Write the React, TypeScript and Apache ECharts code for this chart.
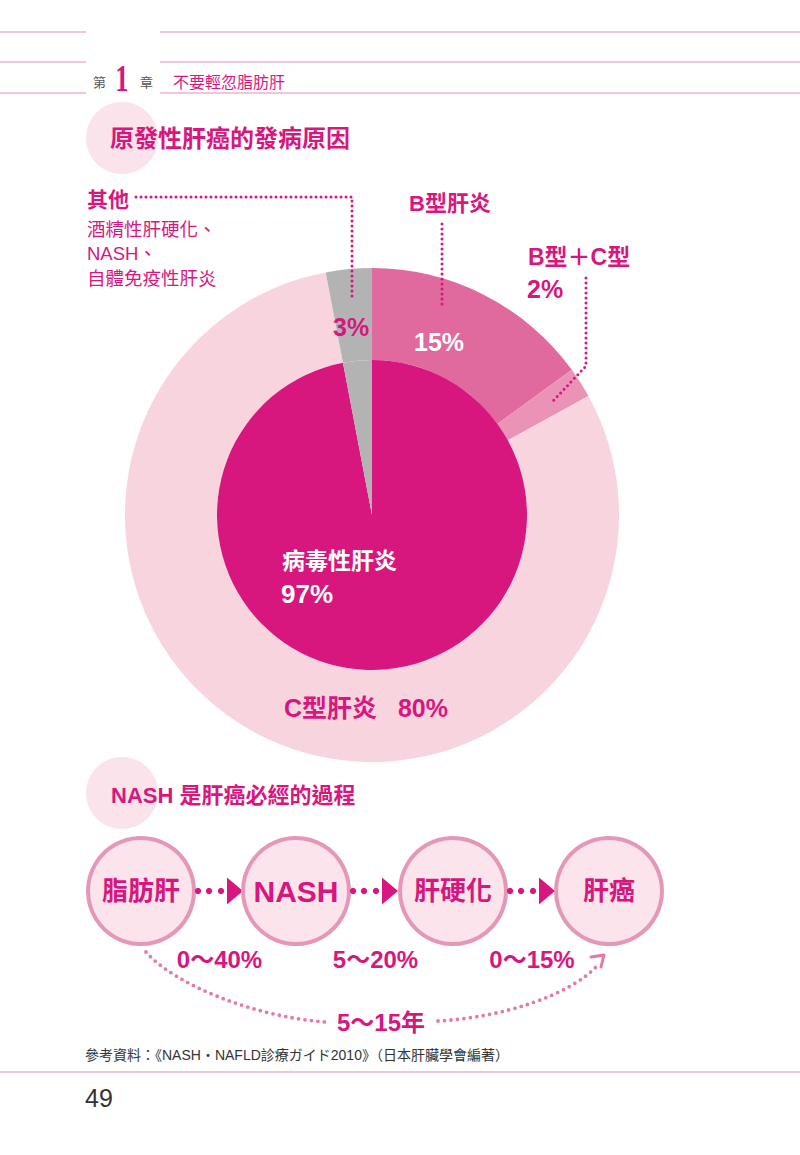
import React, { useEffect, useRef } from "react";
import * as echarts from "echarts";

// ---- data ----
const innerNames = ["病毒性肝炎", "其他"];
const innerValues = [97, 3];
const outerNames = ["B型肝炎", "B型＋C型", "C型肝炎", "其他"];
const outerValues = [15, 2, 80, 3];
const otherCauses = ["酒精性肝硬化、", "NASH、", "自體免疫性肝炎"];
const flowStages = ["脂肪肝", "NASH", "肝硬化", "肝癌"];
const flowRates = ["0～40%", "5～20%", "0～15%"];
const totalPeriod = "5～15年";

// ---- styles ----
const MAG = "#D7177E";
const GRAY = "#B3B3B3";
const innerColors = [MAG, GRAY];
const outerColors = ["#E0699D", "#EB93B6", "#F7D4DE", GRAY];
const LINE = "#E38DB9";
const PALE = "#FAE3EA";
const F = '"Liberation Sans", "Noto Sans CJK TC", sans-serif';

const txt = (text: string, x: number, y: number, size: number, color: string, opts: any = {}) => ({
  type: "text",
  x,
  y,
  silent: true,
  z: 10,
  style: {
    text,
    fill: color,
    fontSize: size,
    fontWeight: opts.weight || "bold",
    fontFamily: opts.family || F,
    align: opts.align || "left",
    verticalAlign: "middle",
  },
});

const dotted = (points: number[][], color: string, width = 3, gap = 5) => ({
  type: "polyline",
  silent: true,
  z: 5,
  shape: { points },
  style: { stroke: color, lineWidth: width, lineDash: [0, gap], lineCap: "round", fill: null },
});

const hline = (x1: number, x2: number, y: number) => ({
  type: "line",
  silent: true,
  shape: { x1, y1: y, x2, y2: y },
  style: { stroke: LINE, lineWidth: 1.2 },
});

export default function App() {
  const ref = useRef<HTMLDivElement>(null);
  useEffect(() => {
    if (!ref.current) return;
    const chart = echarts.init(ref.current, null, { renderer: "svg" });
    const cx = 372;
    const cy = 515;

    const graphics: any[] = [];
    // header
    [32, 62, 93].forEach((y) => {
      graphics.push(hline(0, 86, y), hline(160, 800, y));
    });
    graphics.push(txt("第", 93, 82, 13, "#555", { weight: "normal" }));
    graphics.push({
      type: "text",
      x: 122,
      y: 78,
      scaleX: 0.7,
      silent: true,
      style: {
        text: "1",
        fill: MAG,
        fontSize: 38,
        fontWeight: "bold",
        fontFamily: '"Liberation Serif", serif',
        align: "center",
        verticalAlign: "middle",
      },
    });
    graphics.push(txt("章", 140, 82, 13, "#555", { weight: "normal" }));
    graphics.push(txt("不要輕忽脂肪肝", 173, 82, 16, MAG, { weight: "normal" }));

    // title 1
    graphics.push({ type: "circle", silent: true, shape: { cx: 122, cy: 138, r: 36 }, style: { fill: PALE } });
    graphics.push(txt("原發性肝癌的發病原因", 110, 138, 24, MAG));

    // other label
    graphics.push(txt("其他", 87, 199, 21, MAG));
    otherCauses.forEach((t, i) => graphics.push(txt(t, 87, 229 + i * 24.5, 18.5, MAG, { weight: "normal" })));
    graphics.push(dotted([[136, 197], [352, 197], [352, 300]], MAG));

    // B label
    graphics.push(txt(outerNames[0], 409, 203, 22, MAG));
    graphics.push(dotted([[442, 224], [442, 308]], MAG));

    // B+C label
    graphics.push(txt(outerNames[1], 528, 257, 23, MAG));
    graphics.push(txt(`${outerValues[1]}%`, 527, 289, 25, MAG));
    graphics.push(dotted([[586, 278], [586, 366], [553, 401]], MAG));

    // in-chart labels
    graphics.push(txt(`${outerValues[3]}%`, 333, 327, 25, MAG));
    graphics.push(txt(`${outerValues[0]}%`, 414, 342, 25, "#fff"));
    graphics.push(txt(innerNames[0], 282, 561, 23, "#fff"));
    graphics.push(txt(`${innerValues[0]}%`, 281, 594, 26, "#fff"));
    graphics.push(txt(`${outerNames[2]}   ${outerValues[2]}%`, 284, 708, 25, MAG));

    // title 2
    graphics.push({ type: "circle", silent: true, shape: { cx: 122, cy: 793, r: 36 }, style: { fill: PALE } });
    graphics.push(txt("NASH 是肝癌必經的過程", 111, 795, 22, MAG));

    // flow
    const fx = [141, 296, 453, 609];
    const fy = 891;
    flowStages.forEach((s, i) => {
      graphics.push({
        type: "circle",
        silent: true,
        shape: { cx: fx[i], cy: fy, r: 53 },
        style: { fill: "#FBE4EC", stroke: "#E597B8", lineWidth: 4 },
      });
      graphics.push(txt(s, fx[i], fy, s === "NASH" ? 30 : 26, MAG, { align: "center" }));
      if (i < flowStages.length - 1) {
        [57, 68, 80].forEach((d) =>
          graphics.push({ type: "circle", silent: true, shape: { cx: fx[i] + d, cy: fy, r: 3.2 }, style: { fill: MAG } })
        );
        graphics.push({
          type: "polygon",
          silent: true,
          shape: { points: [[fx[i] + 86, fy - 13.5], [fx[i] + 86, fy + 13.5], [fx[i] + 102, fy]] },
          style: { fill: MAG },
        });
      }
    });
    flowRates.forEach((r, i) => graphics.push(txt(r, (fx[i] + fx[i + 1]) / 2 + 1, 959, 24, MAG, { align: "center" })));

    // period arc
    const ARC = "#E47AA8";
    graphics.push({
      type: "bezierCurve",
      silent: true,
      shape: { x1: 146, y1: 952, cpx1: 175, cpy1: 985, cpx2: 255, cpy2: 1017, x2: 326, y2: 1022 },
      style: { stroke: ARC, lineWidth: 3.8, lineDash: [0, 6.5], lineCap: "round", fill: null },
    });
    graphics.push({
      type: "bezierCurve",
      silent: true,
      shape: { x1: 438, y1: 1021, cpx1: 505, cpy1: 1017, cpx2: 570, cpy2: 995, x2: 598, y2: 965 },
      style: { stroke: ARC, lineWidth: 3.8, lineDash: [0, 6.5], lineCap: "round", fill: null },
    });
    graphics.push({
      type: "polyline",
      silent: true,
      shape: { points: [[591, 957], [604, 955], [601, 967]] },
      style: { stroke: ARC, lineWidth: 3, lineCap: "round", lineJoin: "round", fill: null },
    });
    graphics.push(txt(totalPeriod, 381, 1022, 24, MAG, { align: "center" }));

    // footer
    graphics.push(
      txt("參考資料：《NASH・NAFLD診療ガイド2010》（日本肝臟學會編著）", 85, 1055, 14, "#333", { weight: "normal" })
    );
    graphics.push(hline(0, 800, 1072));
    graphics.push(txt("49", 85, 1098, 25, "#333", { weight: "normal" }));

    chart.setOption({
      animation: false,
      backgroundColor: "#fff",
      series: [
        {
          type: "pie",
          center: [cx, cy],
          radius: [155, 247],
          startAngle: 90,
          clockwise: true,
          silent: true,
          label: { show: false },
          labelLine: { show: false },
          emphasis: { disabled: true },
          itemStyle: { borderWidth: 0 },
          data: outerNames.map((n, i) => ({ name: n, value: outerValues[i], itemStyle: { color: outerColors[i] } })),
        },
        {
          type: "pie",
          center: [cx, cy],
          radius: [0, 155],
          startAngle: 90,
          clockwise: true,
          silent: true,
          label: { show: false },
          labelLine: { show: false },
          emphasis: { disabled: true },
          itemStyle: { borderWidth: 0 },
          data: innerNames.map((n, i) => ({ name: n, value: innerValues[i], itemStyle: { color: innerColors[i] } })),
        },
      ],
      graphic: graphics,
    });
    return () => chart.dispose();
  }, []);
  return <div ref={ref} style={{ position: "absolute", left: 0, top: 0, width: 800, height: 1155 }} />;
}
